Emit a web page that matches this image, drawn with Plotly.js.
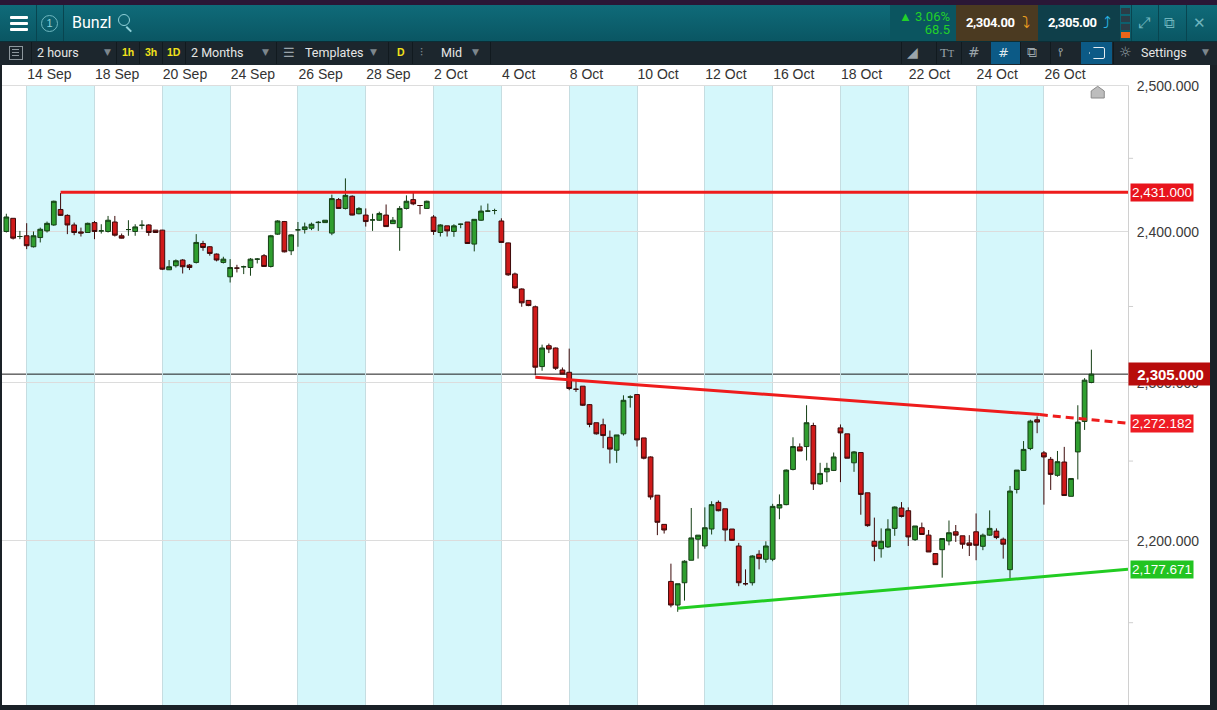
<!DOCTYPE html>
<html>
<head>
<meta charset="utf-8">
<script src="https://cdn.plot.ly/plotly-3.0.1.min.js"></script>
<style>
html,body{margin:0;padding:0;width:1217px;height:710px;overflow:hidden;background:#1a2127;font-family:"Liberation Sans Narrow","Roboto","Liberation Sans",Arial,sans-serif;}
.a{position:absolute;}
.t{position:absolute;white-space:nowrap;}
.bar{position:absolute;width:18px;height:3px;background:#fff;border-radius:1px;}
.vs{position:absolute;width:1px;}
.tb{position:absolute;top:41px;height:23px;line-height:23px;font-size:12.5px;color:#e6e6e6;white-space:nowrap;}
.y{color:#f2e21b;font-weight:bold;font-size:10.5px;font-family:"Liberation Sans",Arial,sans-serif;}
.dd{color:#7d878d;font-size:9px;font-family:"DejaVu Sans",sans-serif;}
.ic{font-family:"DejaVu Sans",sans-serif;color:#9aa4aa;}
.px{position:absolute;top:5px;line-height:36px;color:#fff;font-weight:bold;font-size:13px;letter-spacing:-0.4px;white-space:nowrap;}
#chart{position:absolute;left:2px;top:65px;width:1208px;height:640px;background:#fff;}
</style>
</head>
<body>
<!-- header -->
<div class="a" style="left:0;top:0;width:1217px;height:5px;background:#2a1736"></div>
<div class="a" style="left:0;top:5px;width:1217px;height:36px;background:linear-gradient(#0f6b79,#0a5663)"></div>
<div class="bar" style="left:10px;top:16px"></div>
<div class="bar" style="left:10px;top:22px"></div>
<div class="bar" style="left:10px;top:28px"></div>
<div class="vs" style="left:36px;top:5px;height:36px;background:#084550"></div>
<div class="a" style="left:41px;top:15px;width:15px;height:15px;border:1px solid #6fb7bf;border-radius:50%;color:#8fd0d8;font:11px/15px 'Liberation Sans',Arial;text-align:center">1</div>
<div class="vs" style="left:63px;top:5px;height:36px;background:#084550"></div>
<div class="t" style="left:72px;top:5px;line-height:36px;font-size:16px;color:#fff">Bunzl</div>
<div class="a" style="left:118px;top:14px;width:10px;height:10px;border:1.5px solid #8fd0d8;border-radius:50%"></div>
<div class="a" style="left:127px;top:26px;width:7px;height:1.5px;background:#8fd0d8;transform:rotate(45deg);transform-origin:0 0"></div>

<div class="a" style="left:890px;top:5px;width:66px;height:36px;background:#0b5560"></div>
<div class="t" style="left:890px;width:60px;top:10px;text-align:right;color:#22d02a;font-size:13px;line-height:13px">▲ 3.06%<br>68.5</div>
<div class="a" style="left:956px;top:5px;width:82px;height:36px;background:#4b3a21"></div>
<div class="px" style="left:966px">2,304.00</div>
<div class="t" style="left:1022px;top:5px;line-height:36px;color:#efa020;font-size:16px;font-family:'DejaVu Sans'">⤵</div>
<div class="a" style="left:1038px;top:5px;width:82px;height:36px;background:#0f3f4a"></div>
<div class="px" style="left:1048px">2,305.00</div>
<div class="t" style="left:1103px;top:5px;line-height:36px;color:#2ab3e0;font-size:16px;font-family:'DejaVu Sans'">⤴</div>
<div class="a" style="left:1121px;top:8px;width:9px;height:6px;background:#2b3d47"></div>
<div class="a" style="left:1121px;top:16px;width:9px;height:6px;background:#2b3d47"></div>
<div class="a" style="left:1121px;top:24px;width:9px;height:6px;background:#2b3d47"></div>
<div class="a" style="left:1121px;top:32px;width:9px;height:6px;background:#e8661a"></div>
<div class="vs" style="left:1131px;top:5px;height:36px;background:#084550"></div>
<div class="t ic" style="left:1138px;top:5px;line-height:36px;font-size:15px;color:#6fb4bd">⤢</div>
<div class="vs" style="left:1158px;top:5px;height:36px;background:#084550"></div>
<div class="t ic" style="left:1164px;top:5px;line-height:36px;font-size:15px;color:#6fb4bd">⧉</div>
<div class="vs" style="left:1186px;top:5px;height:36px;background:#084550"></div>
<div class="t ic" style="left:1193px;top:5px;line-height:36px;font-size:15px;color:#6fb4bd">✕</div>

<!-- toolbar -->
<div class="a" style="left:0;top:41px;width:1217px;height:24px;background:#1c262d;border-top:1px solid #0b2e36;box-sizing:border-box"></div>
<div class="a" style="left:9px;top:46px;width:12px;height:12px;border:1px solid #8d979d"></div>
<div class="a" style="left:12px;top:49px;width:7px;height:1px;background:#8d979d;box-shadow:0 3px 0 #8d979d,0 6px 0 #8d979d"></div>
<div class="vs" style="left:31px;top:42px;height:22px;background:#111a1f"></div>
<div class="tb" style="left:37px">2 hours</div>
<div class="tb dd" style="left:104px">▼</div>
<div class="vs" style="left:116px;top:42px;height:22px;background:#111a1f"></div>
<div class="tb y" style="left:122px">1h</div>
<div class="vs" style="left:139px;top:42px;height:22px;background:#111a1f"></div>
<div class="tb y" style="left:145px">3h</div>
<div class="vs" style="left:162px;top:42px;height:22px;background:#111a1f"></div>
<div class="tb y" style="left:167px">1D</div>
<div class="vs" style="left:185px;top:42px;height:22px;background:#111a1f"></div>
<div class="tb" style="left:191px">2 Months</div>
<div class="tb dd" style="left:262px">▼</div>
<div class="vs" style="left:276px;top:42px;height:22px;background:#111a1f"></div>
<div class="tb ic" style="left:283px;font-size:13px">☰</div>
<div class="tb" style="left:305px">Templates</div>
<div class="tb dd" style="left:370px">▼</div>
<div class="vs" style="left:388px;top:42px;height:22px;background:#111a1f"></div>
<div class="tb y" style="left:397px">D</div>
<div class="vs" style="left:412px;top:42px;height:22px;background:#111a1f"></div>
<div class="tb ic" style="left:420px;font-size:12px">⫶</div>
<div class="tb" style="left:441px">Mid</div>
<div class="tb dd" style="left:472px">▼</div>
<div class="vs" style="left:490px;top:42px;height:22px;background:#111a1f"></div>

<div class="vs" style="left:901px;top:42px;height:22px;background:#111a1f"></div>
<div class="tb ic" style="left:907px;font-size:14px">◢</div>
<div class="vs" style="left:936px;top:42px;height:22px;background:#111a1f"></div>
<div class="tb" style="left:940px;color:#9aa4aa;font-family:'Liberation Serif',serif;font-size:13px">T<span style="font-size:10px">T</span></div>
<div class="vs" style="left:961px;top:42px;height:22px;background:#111a1f"></div>
<div class="tb ic" style="left:968px;font-size:14px">#</div>
<div class="a" style="left:991px;top:42px;width:29px;height:22px;background:#0c5a86"></div>
<div class="tb ic" style="left:998px;font-size:13px;color:#dfe8ee">#</div>
<div class="vs" style="left:1020px;top:42px;height:22px;background:#111a1f"></div>
<div class="tb ic" style="left:1027px;font-size:14px">⧉</div>
<div class="vs" style="left:1050px;top:42px;height:22px;background:#111a1f"></div>
<div class="tb ic" style="left:1058px;font-size:12px">⫯</div>
<div class="a" style="left:1081px;top:42px;width:31px;height:22px;background:#0c5a86"></div>
<div class="a" style="left:1089px;top:47px;width:14px;height:10px;border:1px solid #e6eef2;border-radius:0 2px 2px 0;clip-path:polygon(30% 0,100% 0,100% 100%,30% 100%,0 50%)"></div>
<div class="vs" style="left:1113px;top:42px;height:22px;background:#111a1f"></div>
<div class="tb ic" style="left:1119px;font-size:14px">☼</div>
<div class="tb" style="left:1141px">Settings</div>
<div class="tb dd" style="left:1202px">▼</div>

<div id="chart"></div>
<script>
// ---- data (Bunzl, 2-hour bars, mid price) ----
const dateLabels = ['14 Sep','18 Sep','20 Sep','24 Sep','26 Sep','28 Sep','2 Oct','4 Oct','8 Oct','10 Oct','12 Oct','16 Oct','18 Oct','22 Oct','24 Oct','26 Oct'];
const barsPerLabel = 10;      // two trading days of 2-hour bars per date label
const firstBar = -3;          // three bars of 13 Sep visible before 14 Sep
const open = [2400.1,2409.0,2396.7,2397.2,2389.8,2396.0,2400.5,2404.5,2415.0,2411.0,
2404.5,2399.8,2399.4,2406.1,2400.5,2400.1,2406.5,2397.2,2401.4,2400.1,
2404.3,2404.5,2401.0,2401.0,2374.4,2377.1,2380.9,2377.5,2379.3,2392.0,
2389.8,2384.9,2379.3,2369.7,2375.5,2376.4,2375.9,2381.5,2383.8,2376.6,
2398.3,2406.8,2387.1,2401.2,2401.4,2402.3,2406.1,2406.1,2399.0,2421.7,
2415.7,2424.0,2412.1,2411.2,2407.9,2407.7,2411.2,2405.4,2402.7,2415.7,
2421.7,2417.7,2415.7,2409.9,2399.4,2403.9,2400.1,2405.0,2406.5,2391.6,
2407.7,2413.9,2414.3,2407.2,2392.4,2371.6,2361.6,2354.0,2349.8,2310.6,
2324.2,2322.7,2308.4,2306.9,2295.9,2297.9,2286.0,2274.4,2273.1,2265.1,
2256.9,2267.3,2290.9,2292.5,2264.7,2252.6,2228.5,2210.3,2175.1,2160.7,
2174.3,2188.1,2201.1,2196.9,2207.4,2224.0,2220.0,2207.4,2196.9,2173.7,
2174.3,2191.8,2188.7,2188.7,2220.5,2222.6,2244.7,2259.0,2259.2,2272.6,
2235.6,2243.2,2244.1,2271.1,2267.3,2248.9,2255.4,2230.0,2199.8,2195.2,
2196.3,2207.8,2220.5,2218.8,2200.8,2208.2,2203.6,2192.2,2194.6,2200.0,
2205.7,2203.2,2198.8,2205.7,2196.7,2203.6,2206.1,2201.1,2182.3,2232.1,
2244.1,2258.0,2276.3,2255.2,2251.1,2241.0,2249.4,2227.8,2255.8,2275.2,
2300.3];
const high = [2412.1,2409.0,2400.5,2405.7,2400.1,2402.7,2406.8,2421.0,2426.2,2411.7,
2406.1,2402.7,2406.1,2407.2,2405.0,2410.6,2410.6,2398.7,2407.7,2405.0,
2407.7,2405.0,2401.0,2401.2,2380.9,2381.3,2381.5,2378.2,2398.3,2393.8,
2390.2,2385.3,2383.1,2381.5,2377.7,2377.1,2382.2,2382.2,2384.9,2397.8,
2407.7,2407.2,2398.3,2406.5,2406.1,2406.1,2407.2,2407.7,2425.1,2422.8,
2436.2,2424.6,2416.6,2415.7,2412.1,2413.5,2418.4,2409.9,2417.3,2424.6,
2427.3,2417.9,2421.0,2411.2,2405.0,2403.9,2405.0,2405.4,2406.5,2408.3,
2417.7,2419.0,2415.5,2409.0,2392.6,2372.5,2362.0,2354.0,2350.6,2324.9,
2325.6,2323.0,2310.0,2322.3,2301.8,2297.9,2286.4,2274.4,2277.0,2269.4,
2266.6,2292.0,2292.0,2292.5,2264.7,2253.0,2228.5,2210.3,2186.0,2173.7,
2188.1,2220.5,2203.6,2220.9,2224.7,2225.2,2220.0,2207.4,2198.8,2182.5,
2191.2,2194.3,2199.8,2223.1,2229.0,2244.7,2265.1,2261.2,2285.6,2274.4,
2248.9,2248.9,2255.4,2273.3,2267.3,2256.4,2255.6,2230.0,2214.5,2207.8,
2213.5,2221.5,2224.2,2220.9,2209.3,2211.4,2206.8,2192.2,2201.5,2212.7,
2209.9,2203.2,2203.6,2217.1,2204.6,2219.0,2207.8,2202.1,2234.3,2244.3,
2262.7,2276.3,2278.5,2256.4,2252.6,2256.4,2259.0,2239.0,2285.6,2303.1,
2321.6];
const low = [2399.4,2394.7,2394.9,2388.2,2389.3,2392.7,2399.4,2403.9,2410.6,2398.3,
2397.6,2396.7,2399.4,2394.9,2398.7,2399.4,2396.7,2395.4,2397.2,2397.2,
2401.6,2397.2,2399.4,2374.2,2374.2,2375.9,2371.9,2374.2,2378.6,2387.1,
2383.8,2380.0,2378.6,2365.9,2372.6,2371.5,2370.4,2378.6,2376.4,2375.9,
2397.8,2386.0,2384.2,2389.8,2398.7,2401.0,2400.5,2406.1,2397.6,2415.5,
2415.0,2411.0,2411.7,2403.4,2400.5,2407.2,2403.4,2405.4,2387.1,2415.0,
2417.9,2411.7,2415.7,2397.8,2396.7,2396.7,2396.5,2402.3,2392.0,2386.7,
2407.2,2413.5,2411.7,2392.7,2370.3,2361.6,2349.8,2350.2,2305.0,2307.9,
2319.4,2308.4,2305.7,2295.3,2294.2,2285.1,2271.5,2266.8,2258.2,2248.5,
2248.9,2266.2,2284.1,2259.2,2251.1,2225.7,2203.6,2204.6,2159.3,2156.6,
2163.4,2188.1,2189.1,2195.2,2204.0,2218.4,2199.8,2200.0,2172.2,2172.6,
2172.6,2182.5,2186.6,2187.5,2213.5,2222.2,2244.1,2256.4,2250.4,2231.8,
2235.0,2236.7,2243.7,2236.7,2251.8,2243.2,2216.3,2208.8,2187.5,2189.7,
2195.7,2203.2,2214.6,2196.9,2200.0,2204.0,2193.2,2185.4,2177.4,2197.3,
2199.4,2195.2,2190.7,2188.1,2194.3,2203.2,2201.1,2189.1,2175.8,2229.6,
2243.7,2256.9,2267.7,2222.6,2231.8,2240.1,2228.3,2227.8,2238.4,2269.8,
2299.8];
const close = [2409.9,2395.6,2396.7,2390.5,2397.2,2401.6,2405.6,2420.6,2411.0,2404.5,
2399.4,2399.0,2405.6,2400.1,2400.5,2407.7,2397.6,2395.6,2401.4,2403.2,
2404.3,2399.4,2399.4,2374.8,2376.4,2380.4,2376.4,2375.9,2392.7,2389.3,
2385.3,2380.9,2381.5,2375.9,2375.5,2376.4,2381.5,2381.5,2376.6,2397.2,
2407.2,2386.4,2397.8,2401.2,2403.2,2405.0,2406.3,2407.7,2422.4,2415.7,
2424.6,2411.2,2415.7,2406.8,2407.9,2412.3,2403.4,2407.7,2415.7,2420.6,
2418.8,2417.7,2420.6,2400.1,2404.5,2400.5,2403.9,2405.0,2392.0,2408.3,
2413.9,2413.9,2414.3,2392.7,2371.0,2362.3,2352.4,2350.6,2310.2,2322.7,
2322.0,2309.5,2305.7,2296.4,2295.9,2285.6,2273.3,2267.3,2266.2,2257.6,
2266.6,2288.8,2290.9,2263.4,2251.8,2227.4,2211.6,2206.8,2160.7,2173.7,
2187.5,2201.9,2203.6,2208.2,2222.6,2218.8,2206.8,2200.4,2174.3,2173.7,
2190.7,2189.1,2196.9,2221.5,2222.6,2244.3,2259.2,2256.4,2274.4,2235.6,
2242.2,2245.4,2252.6,2267.9,2251.8,2255.8,2229.0,2209.5,2196.7,2199.8,
2207.4,2221.1,2215.2,2202.5,2209.3,2204.0,2193.2,2185.4,2201.5,2205.1,
2203.6,2198.0,2197.3,2197.3,2203.6,2207.8,2202.1,2198.0,2231.1,2244.3,
2257.4,2275.4,2274.8,2252.6,2241.6,2249.6,2228.3,2239.0,2274.8,2301.8,
2305.7];
const priceTicks = [2200, 2300, 2400, 2500];
const priceTickText = ['2,200.000', '2,300.000', '2,400.000', '2,500.000'];
const minorTicks = [2150, 2250, 2350, 2450];
// drawn levels: [bar index, price]
const resistanceStart = [5, 2426.8];
const resistanceLabel = '2,431.000';
const downTrend = [[75, 2303.7], [149.4, 2279.6]];
const downTrendExt = [[149.4, 2279.6], [162.4, 2274.0]];
const downTrendLabel = '2,272.182';
const upTrend = [[96, 2158.8], [162.4, 2182.6]];
const upTrendLabel = '2,177.671';
const lastPrice = 2305.7;
const lastPriceLabel = '2,305.000';

// ---- build ----
const idx = open.map((_, k) => firstBar + k);
const tickvals = dateLabels.map((_, k) => k * barsPerLabel);
const xRange = [-3.64, 162.4];
const L10 = Math.log10;

const shapes = [];
dateLabels.forEach((_, k) => {
  if (k % 2 === 0) shapes.push({type:'rect', xref:'x', yref:'paper', x0:k*barsPerLabel, x1:(k+1)*barsPerLabel, y0:0, y1:1,
    fillcolor:'#d5f7fb', line:{width:0}, layer:'below'});
});
minorTicks.forEach(v => shapes.push({type:'line', xref:'paper', yref:'y', x0:1, x1:1.0045, y0:v, y1:v, line:{color:'#cfcfcf', width:1}}));
shapes.push({type:'line', xref:'paper', yref:'y', x0:0, x1:1, y0:lastPrice, y1:lastPrice, line:{color:'#1a1a1a', width:1}, layer:'between'});
shapes.push({type:'line', xref:'x', yref:'y', x0:resistanceStart[0], x1:xRange[1], y0:resistanceStart[1], y1:resistanceStart[1], line:{color:'#ee1c1c', width:3}});
shapes.push({type:'line', xref:'x', yref:'y', x0:downTrend[0][0], y0:downTrend[0][1], x1:downTrend[1][0], y1:downTrend[1][1], line:{color:'#ee1c1c', width:3}});
shapes.push({type:'line', xref:'x', yref:'y', x0:downTrendExt[0][0], y0:downTrendExt[0][1], x1:downTrendExt[1][0], y1:downTrendExt[1][1], line:{color:'#ee1c1c', width:3, dash:'8px,5px'}});
shapes.push({type:'line', xref:'x', yref:'y', x0:upTrend[0][0], y0:upTrend[0][1], x1:upTrend[1][0], y1:upTrend[1][1], line:{color:'#22cc22', width:3}});
// scroll-to-top marker
shapes.push({type:'path', xref:'x', yref:'paper', path:'M156.97,0.9806 L156.97,0.9919 L157.93,0.9995 L158.9,0.9919 L158.9,0.9806 Z', fillcolor:'#bdbdbd', line:{color:'#8a8a8a', width:1}});

function priceTag(v, text, bg, opts) {
  opts = opts || {};
  return Object.assign({xref:'paper', yref:'y', x:1, xanchor:'left', xshift:2, y:L10(v), yanchor:'middle', text:text,
    showarrow:false, bgcolor:bg, borderpad:1, font:{family:'Liberation Sans, Arial, sans-serif', size:13.5, color:'#ffffff'}}, opts);
}
const annotations = [
  priceTag(resistanceStart[1], resistanceLabel, '#e8141c'),
  priceTag(downTrendExt[1][1], downTrendLabel, '#ee1c24'),
  priceTag(upTrend[1][1], upTrendLabel, '#22c422'),
  priceTag(lastPrice, '<b>' + lastPriceLabel + '</b>', '#b80c0c', {xshift:0, width:81, height:20, borderpad:1, font:{family:'Liberation Sans, Arial, sans-serif', size:15, color:'#ffffff'}})
];

const trace = {
  type:'candlestick', x:idx, open:open, high:high, low:low, close:close,
  increasing:{line:{color:'#153f15', width:1}, fillcolor:'#2f9e2f'},
  decreasing:{line:{color:'#3d0a0a', width:1}, fillcolor:'#d01a1a'},
  whiskerwidth:0, hoverinfo:'skip', showlegend:false
};

const layout = {
  width:1208, height:640,
  margin:{l:0, r:82, t:21, b:0, pad:0},
  paper_bgcolor:'#ffffff', plot_bgcolor:'#ffffff',
  showlegend:false, boxgap:0.3, boxgroupgap:0,
  font:{family:'Liberation Sans, Arial, sans-serif', color:'#333'},
  xaxis:{type:'linear', range:xRange, side:'top', tickmode:'array', tickvals:tickvals, ticktext:dateLabels,
    ticklabelposition:'outside right', showgrid:true, gridcolor:'#c6dde1', gridwidth:1, zeroline:false, ticks:'',
    tickfont:{size:14, color:'#333'}, showline:true, linecolor:'#dddddd', rangeslider:{visible:false}, fixedrange:true},
  yaxis:{type:'log', range:[L10(2100.8), 3.39800], side:'right', tickmode:'array', tickvals:priceTicks, ticktext:priceTickText,
    showgrid:true, gridcolor:'#dcdcdc', gridwidth:1, zeroline:false, ticks:'', ticklabelstandoff:5,
    tickfont:{size:14, color:'#3a3a3a'}, showline:true, linecolor:'#d0d0d0', fixedrange:true},
  shapes:shapes, annotations:annotations
};
Plotly.newPlot('chart', [trace], layout, {staticPlot:true, displayModeBar:false});
</script>
</body>
</html>
